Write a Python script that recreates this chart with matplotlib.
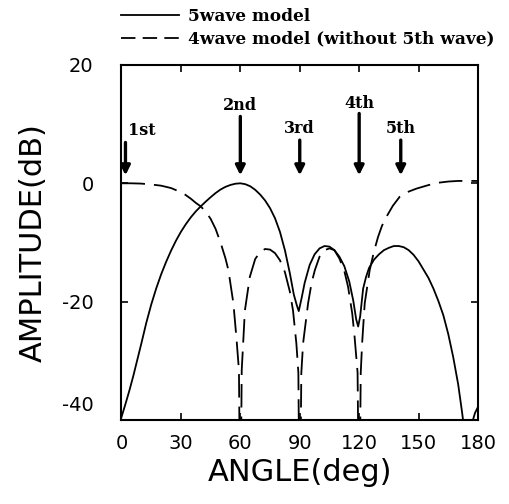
import matplotlib
matplotlib.use("Agg")
import matplotlib.pyplot as plt
from matplotlib.lines import Line2D
from matplotlib.transforms import ScaledTranslation

# Array pattern (5-wave model), amplitude in dB versus angle in degrees
angle_5wave = [0, 2, 4, 6, 8, 10, 12.5, 15, 17.5, 20, 22.5, 25, 27.5, 30, 32.5,
               35, 37.5, 40, 42.5, 45, 47.5, 50, 52.5, 55, 57.5, 60, 62.5, 65,
               67.5, 70, 72.5, 75, 77.5, 80, 82.5, 85, 87, 88.5, 89.5, 91, 92.5,
               95, 97.5, 100, 102.5, 105, 107.5, 110, 112.5, 115, 117, 118.5,
               119.5, 120.5, 122, 123.5, 125, 127.5, 130, 132.5, 135, 137.5,
               140, 142.5, 145, 147.5, 150, 152.5, 155, 157.5, 160, 162.5, 165,
               167.5, 170, 172, 173, 175, 177, 178.5, 180]
amp_5wave = [-39.5, -37.3, -35.0, -32.5, -29.8, -27.1, -23.6, -20.5, -17.8,
             -15.4, -13.3, -11.4, -9.7, -8.2, -6.9, -5.75, -4.75, -3.9, -3.1,
             -2.35, -1.65, -1.05, -0.6, -0.28, -0.07, 0.0, -0.15, -0.5, -1.1,
             -1.9, -2.9, -4.2, -5.9, -8.2, -11.3, -15.2, -18.8, -20.6, -21.6,
             -19.3, -16.8, -13.8, -12.0, -11.0, -10.6, -10.7, -11.3, -12.4,
             -14.0, -16.6, -19.8, -23.0, -24.2, -22.5, -17.8, -15.8, -14.3,
             -12.9, -12.0, -11.3, -10.9, -10.6, -10.6, -10.8, -11.3, -12.1,
             -13.2, -14.6, -16.0, -17.8, -19.9, -22.3, -25.5, -29.4, -34.0,
             -38.8, -41.5, -44.0, -40.5, -38.8, -37.8]

# Array pattern without the 5th wave (4-wave model)
angle_4wave = [0, 5, 10, 15, 20, 25, 30, 32.5, 35, 37.5, 40, 42.5, 45, 47.5,
               50, 52.5, 54, 56.5, 58, 59.3, 60, 60.7, 62.3, 64.8, 67.5, 70,
               72.5, 75, 77.5, 80, 82.5, 85, 86.6, 88.3, 89.3, 90, 90.8, 91.7,
               94.2, 96, 97.6, 100, 102.5, 105, 107.5, 110, 112.5, 114.4, 116.5,
               117.7, 119.2, 120, 120.8, 121.5, 122.8, 125.3, 127.5, 129.5,
               131.5, 133.7, 137, 140.4, 145, 148.9, 155, 160, 165, 170, 175,
               180]
amp_4wave = [0.0, 0.0, -0.05, -0.2, -0.4, -0.8, -1.5, -2.0, -2.6, -3.3, -3.9,
             -4.8, -6.0, -7.7, -10.0, -12.7, -14.7, -20.3, -26.0, -31.6, -60.0,
             -31.6, -21.5, -15.8, -12.8, -11.6, -11.1, -11.2, -11.8, -13.0,
             -15.0, -18.3, -21.5, -27.1, -32.0, -60.0, -32.0, -27.0, -20.3,
             -16.8, -14.7, -12.4, -11.3, -11.0, -11.3, -12.7, -14.8, -17.5,
             -22.0, -26.0, -32.0, -60.0, -32.0, -27.0, -20.3, -14.7, -11.5,
             -9.1, -7.2, -5.7, -3.8, -2.3, -1.4, -0.9, -0.3, 0.1, 0.3, 0.4,
             0.4, 0.4]

# Arrival directions of the individual waves
wave_names = ["1st", "2nd", "3rd", "4th", "5th"]
wave_angles = [2, 60, 90, 120, 141]
arrow_tails = [6.9, 11.3, 7.3, 11.8, 7.3]
label_heights = [9.0, 13.2, 9.3, 13.5, 9.3]

x_ticks = [0, 30, 60, 90, 120, 150, 180]
y_ticks = [20, 0, -20, -40]

fig = plt.figure(figsize=(5.09, 5.04), dpi=100)
ax = fig.add_axes([0.2387, 0.1667, 0.7004, 0.7044])

ax.plot(angle_5wave, amp_5wave, color="black", lw=1.3)
ax.plot(angle_4wave, amp_4wave, color="black", lw=1.3,
        linestyle=(0, (13, 5)))

ax.set_xlim(0, 180)
ax.set_ylim(-40, 20)
ax.set_xticks(x_ticks)
ax.set_yticks(y_ticks)
ax.set_xticklabels([str(v) for v in x_ticks])
ax.set_yticklabels([str(v) for v in y_ticks])

for sp in ax.spines.values():
    sp.set_linewidth(1.5)

ax.tick_params(axis="both", direction="in", length=5, width=1.2,
               top=True, right=True, labelsize=14)
ax.tick_params(axis="x", pad=10)
ax.tick_params(axis="y", pad=20)

# lift the bottom y label clear of the x-axis labels
for lab in ax.get_yticklabels():
    if lab.get_text() == "-40":
        lab.set_transform(lab.get_transform() +
                          ScaledTranslation(0, 12 / 72, fig.dpi_scale_trans))

ax.set_xlabel("ANGLE(deg)", fontsize=22, labelpad=4)
ax.set_ylabel("AMPLITUDE(dB)", fontsize=22, labelpad=10)

serif = ["DejaVu Serif"]
for name, a, tail, ly in zip(wave_names, wave_angles, arrow_tails,
                             label_heights):
    ax.annotate("", xy=(a, 1.35), xytext=(a, tail),
                arrowprops=dict(arrowstyle="-|>", color="black", lw=2.4,
                                mutation_scale=14, shrinkA=0, shrinkB=0))
    ha = "left" if name == "1st" else "center"
    ax.text(a + (1.5 if name == "1st" else 0), ly, name, ha=ha, va="center",
            fontsize=11.5, fontweight="bold", family=serif)

# legend keys with the pen styles of the two curves
key_5 = Line2D([], [], color="black", lw=1.3, label="5wave model")
key_4 = Line2D([], [], color="black", lw=1.3, linestyle=(0, (8, 4)),
               label="4wave model (without 5th wave)")
fig.legend(handles=[key_5, key_4], loc="upper left",
           bbox_to_anchor=(0.225, 0.998), frameon=False,
           prop=dict(family=serif, size=12.2, weight="bold"),
           handlelength=3.4, handletextpad=0.55, labelspacing=0.35,
           borderaxespad=0)

fig.savefig("out.png", dpi=100)
